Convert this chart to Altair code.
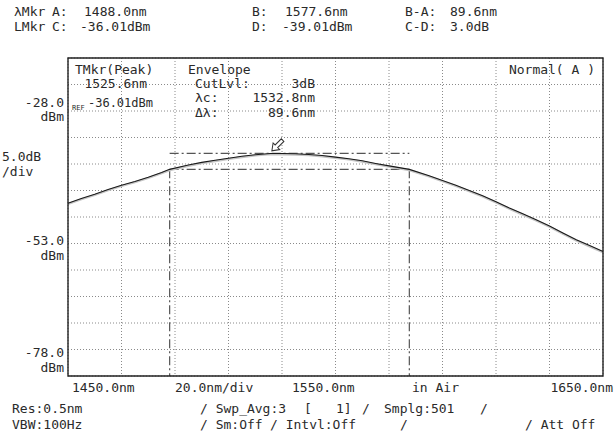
import altair as alt
import pandas as pd

# ---- data ----
wavelength_nm = [1450, 1455, 1460, 1465, 1470, 1475, 1480, 1485, 1488, 1495, 1500, 1505,
                 1510, 1515, 1520, 1525.6, 1530, 1535, 1540, 1545, 1550, 1555, 1560, 1565,
                 1570, 1577.6, 1585, 1590, 1595, 1600, 1605, 1610, 1615, 1620, 1625, 1630,
                 1635, 1640, 1645, 1650]
power_dbm = [-45.4, -44.5, -43.7, -42.8, -42.0, -41.3, -40.5, -39.6, -39.01, -38.2, -37.7, -37.3,
             -36.9, -36.55, -36.25, -36.01, -36.03, -36.08, -36.2, -36.4, -36.7, -37.0, -37.4,
             -37.9, -38.35, -39.01, -40.2, -41.1, -42.0, -43.0, -44.0, -45.1, -46.3, -47.4,
             -48.5, -49.7, -51.0, -52.3, -53.4, -54.5]

mkr_a_nm = 1488.0
mkr_b_nm = 1577.6
lvl_c_dbm = -36.01
lvl_d_dbm = -39.01
peak_nm = 1525.6
peak_dbm = -36.01
center_nm = 1532.8
width_nm = 89.6
cut_level_db = 3

x_ticks = [1450, 1470, 1490, 1510, 1530, 1550, 1570, 1590, 1610, 1630, 1650]
y_ticks = [-78, -73, -68, -63, -58, -53, -48, -43, -38, -33, -28, -23, -18]

# ---- layout ----
L, T = 68, 58          # plot origin in page pixels
W, H = 535, 318
FONT = "DejaVu Sans Mono"
TXT = "#2a2a2a"

xs = alt.Scale(domain=[1450, 1650], nice=False, zero=False)
ys = alt.Scale(domain=[-78, -18], nice=False, zero=False)

trace_df = pd.DataFrame({"nm": wavelength_nm, "dbm": power_dbm})

grid_x = alt.Chart(pd.DataFrame({"nm": x_ticks})).mark_rule(
    color="#8a8a8a", strokeDash=[1, 2], strokeWidth=1
).encode(x=alt.X("nm:Q", scale=xs, axis=None))

grid_y = alt.Chart(pd.DataFrame({"dbm": y_ticks})).mark_rule(
    color="#8a8a8a", strokeDash=[1, 2], strokeWidth=1
).encode(y=alt.Y("dbm:Q", scale=ys, axis=None))

shadow = alt.Chart(trace_df).mark_line(color="#c4c4c4", strokeWidth=2.2, yOffset=0.8).encode(
    x=alt.X("nm:Q", scale=xs, axis=None), y=alt.Y("dbm:Q", scale=ys, axis=None))
trace = alt.Chart(trace_df).mark_line(color="#1a1a1a", strokeWidth=1.1).encode(
    x=alt.X("nm:Q", scale=xs, axis=None), y=alt.Y("dbm:Q", scale=ys, axis=None))

DD = [9, 3, 2, 3]
hlines = alt.Chart(pd.DataFrame({
    "a": [mkr_a_nm, mkr_a_nm], "b": [mkr_b_nm, mkr_b_nm], "lvl": [lvl_c_dbm, lvl_d_dbm]
})).mark_rule(color="#555555", strokeDash=DD, strokeWidth=1.2).encode(
    x=alt.X("a:Q", scale=xs, axis=None), x2="b:Q",
    y=alt.Y("lvl:Q", scale=ys, axis=None))

vlines = alt.Chart(pd.DataFrame({
    "nm": [mkr_a_nm, mkr_b_nm], "top": [lvl_d_dbm, lvl_d_dbm], "bot": [-78, -78]
})).mark_rule(color="#555555", strokeDash=DD, strokeWidth=1.2).encode(
    x=alt.X("nm:Q", scale=xs, axis=None),
    y=alt.Y("top:Q", scale=ys, axis=None), y2="bot:Q")

arrow_path = "M0,1 L-0.62,0.15 L-0.24,0.15 L-0.24,-1 L0.24,-1 L0.24,0.15 L0.62,0.15 Z"
peak_mark = alt.Chart(pd.DataFrame({"nm": [peak_nm], "dbm": [peak_dbm]})).mark_point(
    shape=arrow_path, size=230, angle=45, filled=True, fill="white",
    stroke="#333333", strokeWidth=1, xOffset=7, yOffset=-8, opacity=1
).encode(x=alt.X("nm:Q", scale=xs, axis=None), y=alt.Y("dbm:Q", scale=ys, axis=None))

frame = alt.Chart(pd.DataFrame({"k": [0]})).mark_rect(
    fill=None, fillOpacity=0, stroke="#222222", strokeWidth=1.4
).encode(x=alt.value(0), x2=alt.value(W), y=alt.value(0), y2=alt.value(H))


def label(text, x, y, align="left", size=13):
    return alt.Chart(pd.DataFrame({"t": [text]})).mark_text(
        font=FONT, fontSize=size, color=TXT, align=align, baseline="middle"
    ).encode(x=alt.value(x - L), y=alt.value(y - T), text="t:N")


labels = [
    # header
    label("λMkr", 14, 12), label("A:", 52, 12), label(f"{mkr_a_nm:.1f}nm", 84, 12),
    label("B:", 252, 12), label(f"{mkr_b_nm:.1f}nm", 285, 12),
    label("B-A:", 405, 12), label(f"{mkr_b_nm - mkr_a_nm:.1f}nm", 450, 12),
    label("LMkr", 14, 27), label("C:", 52, 27), label(f"{lvl_c_dbm:.2f}dBm", 80, 27),
    label("D:", 252, 27), label(f"{lvl_d_dbm:.2f}dBm", 282, 27),
    label("C-D:", 405, 27), label(f"{lvl_c_dbm - lvl_d_dbm:.1f}dB", 450, 27),
    # left scale labels
    label("-28.0", 64, 103, "right"), label("dBm", 64, 117, "right"),
    label("5.0dB", 2, 157), label("/div", 2, 172),
    label("-53.0", 64, 241, "right"), label("dBm", 64, 256, "right"),
    label("-78.0", 64, 353, "right"), label("dBm", 64, 368, "right"),
    # x labels
    label("1450.0nm", 72, 388), label("20.0nm/div", 175, 388),
    label("1550.0nm", 292, 388), label("in Air", 412, 388),
    label("1650.0nm", 613, 388, "right"),
    # footer
    label("Res:0.5nm", 12, 409), label("/ Swp_Avg:3", 200, 409), label("[", 304, 409),
    label("1]", 336, 409), label("/", 362, 409), label("Smplg:501", 384, 409),
    label("/", 480, 409),
    label("VBW:100Hz", 12, 425), label("/ Sm:Off", 200, 425), label("/ Intvl:Off", 270, 425),
    label("/", 400, 425), label("/ Att Off", 525, 425),
    # in-plot annotations
    label("TMkr(Peak)", 75, 70), label(f"{peak_nm:.1f}nm", 147, 84, "right"),
    label("REF", 72, 108, size=7), label(f"{peak_dbm:.2f}dBm", 153, 103, "right", 12),
    label("Envelope", 188, 70),
    label("CutLvl:", 195, 84), label(f"{cut_level_db}dB", 315, 84, "right"),
    label("λc:", 195, 98), label(f"{center_nm:.1f}nm", 315, 98, "right"),
    label("Δλ:", 195, 113), label(f"{width_nm:.1f}nm", 315, 113, "right"),
    label("Normal( A )", 595, 70, "right"),
]

chart = alt.layer(
    grid_x, grid_y, hlines, vlines, shadow, trace, peak_mark, frame, *labels
).properties(
    width=W, height=H,
    autosize=alt.AutoSizeParams(type="none"),
    padding={"left": L, "top": T, "right": 616 - L - W, "bottom": 439 - T - H},
    background="white",
).configure_view(stroke=None)

chart.save("out.html", embed_options={"renderer": "svg", "actions": False})
